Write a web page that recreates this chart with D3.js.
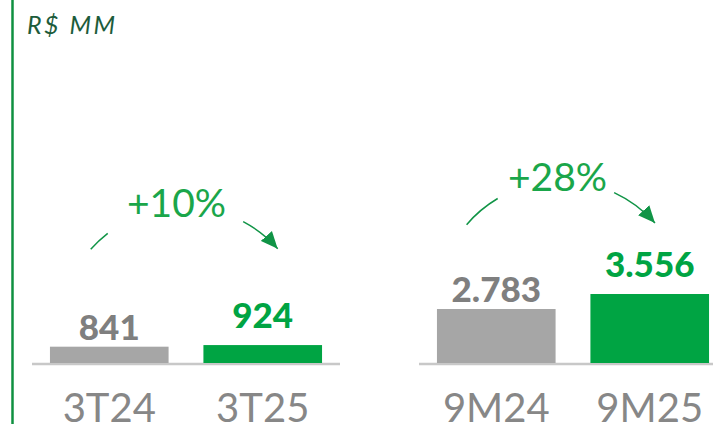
<!DOCTYPE html>
<html>
<head>
<meta charset="utf-8">
<script src="https://cdn.jsdelivr.net/npm/d3@7"></script>
<style>
  html, body { margin: 0; padding: 0; background: #fff; }
  svg { display: block; font-family: Lato, "Open Sans", sans-serif; }
</style>
</head>
<body>
<svg id="chart" width="713" height="424"></svg>
<script>
// ---- data ----
const categories = ["3T24", "3T25", "9M24", "9M25"];
const values = [841, 924, 2783, 3556];
const seriesType = ["prior", "current", "prior", "current"];
const groups = ["3T", "9M"];
const growthLabels = ["+10%", "+28%"];
const unitLabel = "R$ MM";

// ---- layout / style ----
const W = 713, H = 424;
const baseY = 363;
const panelRanges = [[32, 340], [419, 727]];
const annotBaseline = [217, 191];
const textCenterShift = [-9.5, -15.5];
const arcCenterShift = [-1.5, -11.5];
const arcR = 125;
const arcGaps = [[-48.6, -37.9, 28, 48.2], [-49.4, -30.7, 24.9, 48.4]];
const colors = { prior: "#a6a6a6", current: "#00a443" };
const labelColors = { prior: "#7f7f7f", current: "#00a443" };
const labelOffset = { prior: 7, current: 17 };

const ptBR = d3.formatLocale({ decimal: ",", thousands: ".", grouping: [3], currency: ["R$", ""] });
const fmt = ptBR.format(",d");

const svg = d3.select("#chart");

const defs = svg.append("defs");
defs.append("marker")
  .attr("id", "arrow")
  .attr("markerUnits", "userSpaceOnUse")
  .attr("viewBox", "0 -8 18 16")
  .attr("refX", 17).attr("refY", 0)
  .attr("markerWidth", 18).attr("markerHeight", 16)
  .attr("orient", "auto")
  .append("path")
  .attr("d", "M0,-7.5L17,0L0,7.5Z")
  .attr("fill", "#109446");

// left vertical accent line
svg.append("line")
  .attr("x1", 12.5).attr("x2", 12.5)
  .attr("y1", 0).attr("y2", H)
  .attr("stroke", "#0f9040").attr("stroke-width", 2.5);

svg.append("text")
  .attr("x", 27).attr("y", 34)
  .attr("font-style", "italic")
  .attr("font-size", 25)
  .attr("letter-spacing", 2.5)
  .attr("fill", "#1d5c3b")
  .text(unitLabel);

const y = d3.scaleLinear().domain([0, 4000]).range([baseY, baseY - 77.6]);

groups.forEach((g, gi) => {
  const cats = categories.slice(gi * 2, gi * 2 + 2);
  const vals = values.slice(gi * 2, gi * 2 + 2);
  const types = seriesType.slice(gi * 2, gi * 2 + 2);
  const x = d3.scaleBand().domain(cats).range(panelRanges[gi])
    .paddingInner(0.227).paddingOuter(0.117);
  const data = cats.map((c, i) => ({ c, v: vals[i], t: types[i] }));

  const gp = svg.append("g");

  // baseline axis
  const axis = d3.axisBottom(x).tickSize(0).tickPadding(30);
  const ax = gp.append("g").attr("transform", `translate(0,${baseY + 1})`).call(axis);
  ax.select(".domain").attr("stroke", "#c8c8c8").attr("stroke-width", 2.5)
    .attr("d", `M${panelRanges[gi][0]},0H${panelRanges[gi][1]}`);
  ax.selectAll(".tick text")
    .attr("font-family", "Lato, sans-serif")
    .attr("font-size", 40)
    .attr("fill", "#878787")
    .attr("dy", 0)
    .attr("y", 58);

  gp.selectAll("rect.bar").data(data).join("rect")
    .attr("class", "bar")
    .attr("x", d => x(d.c))
    .attr("width", x.bandwidth())
    .attr("y", d => y(d.v))
    .attr("height", d => baseY - y(d.v))
    .attr("fill", d => colors[d.t]);

  gp.selectAll("text.val").data(data).join("text")
    .attr("class", "val")
    .attr("x", d => x(d.c) + x.bandwidth() / 2)
    .attr("y", d => y(d.v) - labelOffset[d.t])
    .attr("text-anchor", "middle")
    .attr("font-weight", 900)
    .attr("font-size", 35)
    .attr("fill", d => labelColors[d.t])
    .text(d => fmt(d.v));

  // growth annotation
  const barMid = (x(cats[0]) + x(cats[1]) + x.bandwidth()) / 2;
  const tx = barMid + textCenterShift[gi];
  const cx = barMid + arcCenterShift[gi];
  const cy = annotBaseline[gi] + 115;
  gp.append("text")
    .attr("x", tx).attr("y", annotBaseline[gi])
    .attr("text-anchor", "middle")
    .attr("font-size", 39)
    .attr("fill", "#1aa64a")
    .text(growthLabels[gi]);

  const rad = a => (a - 90) * Math.PI / 180;
  const [a0, a1, a2, a3] = arcGaps[gi];
  const p1 = d3.path();
  p1.moveTo(cx + arcR * Math.cos(rad(a0)), cy + arcR * Math.sin(rad(a0)));
  p1.arc(cx, cy, arcR, rad(a0), rad(a1));
  gp.append("path").attr("d", p1.toString())
    .attr("fill", "none").attr("stroke", "#109446").attr("stroke-width", 1.5);
  const p2 = d3.path();
  p2.moveTo(cx + arcR * Math.cos(rad(a2)), cy + arcR * Math.sin(rad(a2)));
  p2.arc(cx, cy, arcR, rad(a2), rad(a3));
  gp.append("path").attr("d", p2.toString())
    .attr("fill", "none").attr("stroke", "#109446").attr("stroke-width", 1.5)
    .attr("marker-end", "url(#arrow)");
});
</script>
</body>
</html>
